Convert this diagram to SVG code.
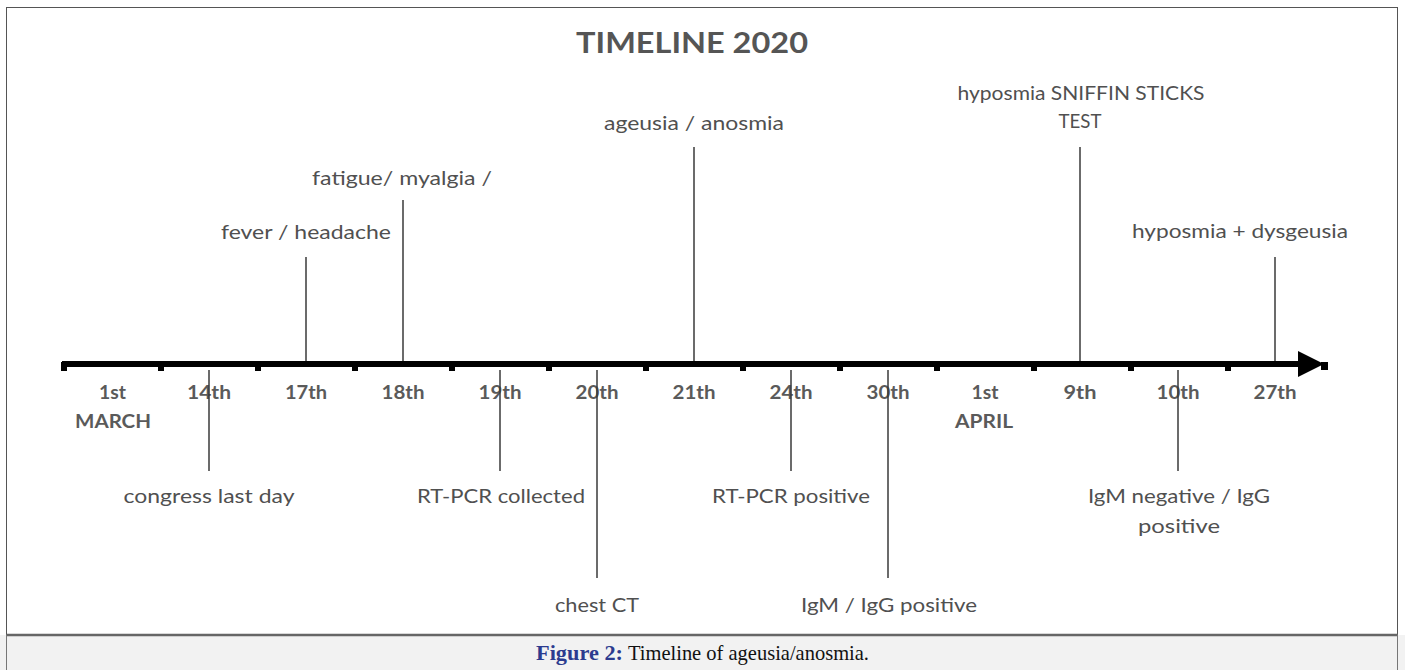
<svg xmlns="http://www.w3.org/2000/svg" width="1405" height="670" viewBox="0 0 1405 670">
<style>
.lbl{font-family:Lato,"Liberation Sans",sans-serif;font-size:19px;fill:#505050;text-anchor:middle}
.day{font-family:Lato,"Liberation Sans",sans-serif;font-size:18px;font-weight:bold;fill:#5a5a5a;text-anchor:middle}
.ttl{font-family:Lato,"Liberation Sans",sans-serif;font-size:28px;font-weight:bold;fill:#555;text-anchor:middle}
.v{stroke:#3a3a3a;stroke-width:1.5;fill:none}
.tick{fill:#000}
.cap{font-family:"Liberation Serif",serif;font-size:21px}
</style>
<rect x="0" y="0" width="1405" height="670" fill="#fff"/>
<rect x="0" y="635" width="1405" height="35" fill="#f2f2f2"/>
<rect x="6.5" y="7.5" width="1391" height="627" fill="none" stroke="#555" stroke-width="1"/>
<line x1="6" y1="635" x2="1398" y2="635" stroke="#666" stroke-width="2.5"/>
<line x1="6.5" y1="635" x2="6.5" y2="670" stroke="#777" stroke-width="1"/>
<line x1="1397.5" y1="635" x2="1397.5" y2="670" stroke="#777" stroke-width="1"/>

<text class="ttl" x="692" y="53" textLength="232" lengthAdjust="spacingAndGlyphs">TIMELINE 2020</text>

<g id="axis">
<rect x="62" y="361" width="1242" height="6" fill="#000"/>
<polygon points="1298,351 1324,364 1298,377" fill="#000"/>
<rect x="1321" y="362" width="7" height="8" fill="#000"/>
<g class="tick">
<rect x="61" y="362" width="6" height="9"/>
<rect x="158" y="364" width="6" height="7"/>
<rect x="255" y="364" width="6" height="7"/>
<rect x="352" y="364" width="6" height="7"/>
<rect x="449" y="364" width="6" height="7"/>
<rect x="546" y="364" width="6" height="7"/>
<rect x="643" y="364" width="6" height="7"/>
<rect x="740" y="364" width="6" height="7"/>
<rect x="837" y="364" width="6" height="7"/>
<rect x="934" y="364" width="6" height="7"/>
<rect x="1031" y="364" width="6" height="7"/>
<rect x="1128" y="364" width="6" height="7"/>
<rect x="1225" y="364" width="6" height="7"/>
</g>
</g>

<g id="days">
<text class="day" x="112.5" y="399" textLength="27" lengthAdjust="spacingAndGlyphs">1st</text>
<text class="day" x="113" y="428" textLength="76" lengthAdjust="spacingAndGlyphs">MARCH</text>
<text class="day" x="209" y="399" textLength="44" lengthAdjust="spacingAndGlyphs">14th</text>
<text class="day" x="306" y="399" textLength="42" lengthAdjust="spacingAndGlyphs">17th</text>
<text class="day" x="403" y="399" textLength="43" lengthAdjust="spacingAndGlyphs">18th</text>
<text class="day" x="500" y="399" textLength="43" lengthAdjust="spacingAndGlyphs">19th</text>
<text class="day" x="597" y="399" textLength="43" lengthAdjust="spacingAndGlyphs">20th</text>
<text class="day" x="694" y="399" textLength="43" lengthAdjust="spacingAndGlyphs">21th</text>
<text class="day" x="791" y="399" textLength="43" lengthAdjust="spacingAndGlyphs">24th</text>
<text class="day" x="888" y="399" textLength="43" lengthAdjust="spacingAndGlyphs">30th</text>
<text class="day" x="985" y="399" textLength="27" lengthAdjust="spacingAndGlyphs">1st</text>
<text class="day" x="984" y="428" textLength="58" lengthAdjust="spacingAndGlyphs">APRIL</text>
<text class="day" x="1080" y="399" textLength="33" lengthAdjust="spacingAndGlyphs">9th</text>
<text class="day" x="1178" y="399" textLength="43" lengthAdjust="spacingAndGlyphs">10th</text>
<text class="day" x="1275" y="399" textLength="43" lengthAdjust="spacingAndGlyphs">27th</text>
</g>

<g id="connectors">
<line class="v" x1="209" y1="370" x2="209" y2="471"/>
<line class="v" x1="306" y1="257" x2="306" y2="361"/>
<line class="v" x1="403" y1="200" x2="403" y2="361"/>
<line class="v" x1="500" y1="370" x2="500" y2="471"/>
<line class="v" x1="597" y1="370" x2="597" y2="578"/>
<line class="v" x1="694" y1="147" x2="694" y2="361"/>
<line class="v" x1="791" y1="370" x2="791" y2="471"/>
<line class="v" x1="888" y1="370" x2="888" y2="578"/>
<line class="v" x1="1080" y1="147" x2="1080" y2="361"/>
<line class="v" x1="1178" y1="370" x2="1178" y2="471"/>
<line class="v" x1="1275" y1="257" x2="1275" y2="361"/>
</g>

<g id="n-fever"><text class="lbl" x="306" y="239" textLength="170" lengthAdjust="spacingAndGlyphs">fever / headache</text></g>
<g id="n-fatigue"><text class="lbl" x="402" y="185" textLength="180" lengthAdjust="spacingAndGlyphs">fatigue/ myalgia /</text></g>
<g id="n-ageusia"><text class="lbl" x="694" y="130" textLength="180" lengthAdjust="spacingAndGlyphs">ageusia / anosmia</text></g>
<g id="n-sniffin">
<text class="lbl" x="1081" y="100" textLength="247" lengthAdjust="spacingAndGlyphs">hyposmia SNIFFIN STICKS</text>
<text class="lbl" x="1080" y="128" textLength="43" lengthAdjust="spacingAndGlyphs">TEST</text>
</g>
<g id="n-hyposmia"><text class="lbl" x="1240" y="238" textLength="216" lengthAdjust="spacingAndGlyphs">hyposmia + dysgeusia</text></g>
<g id="n-congress"><text class="lbl" x="209" y="503" textLength="171" lengthAdjust="spacingAndGlyphs">congress last day</text></g>
<g id="n-rtpcr1"><text class="lbl" x="501" y="503" textLength="168" lengthAdjust="spacingAndGlyphs">RT-PCR collected</text></g>
<g id="n-chest"><text class="lbl" x="597" y="612" textLength="84" lengthAdjust="spacingAndGlyphs">chest CT</text></g>
<g id="n-rtpcr2"><text class="lbl" x="791" y="503" textLength="158" lengthAdjust="spacingAndGlyphs">RT-PCR positive</text></g>
<g id="n-igm1"><text class="lbl" x="889" y="612" textLength="176" lengthAdjust="spacingAndGlyphs">IgM / IgG positive</text></g>
<g id="n-igm2">
<text class="lbl" x="1179" y="503" textLength="182" lengthAdjust="spacingAndGlyphs">IgM negative / IgG</text>
<text class="lbl" x="1179" y="533" textLength="82" lengthAdjust="spacingAndGlyphs">positive</text>
</g>

<text class="cap" x="536" y="660"><tspan font-weight="bold" fill="#2c3b8f" textLength="87" lengthAdjust="spacingAndGlyphs">Figure 2:</tspan><tspan fill="#111" x="628" textLength="241" lengthAdjust="spacingAndGlyphs">Timeline of ageusia/anosmia.</tspan></text>
</svg>
